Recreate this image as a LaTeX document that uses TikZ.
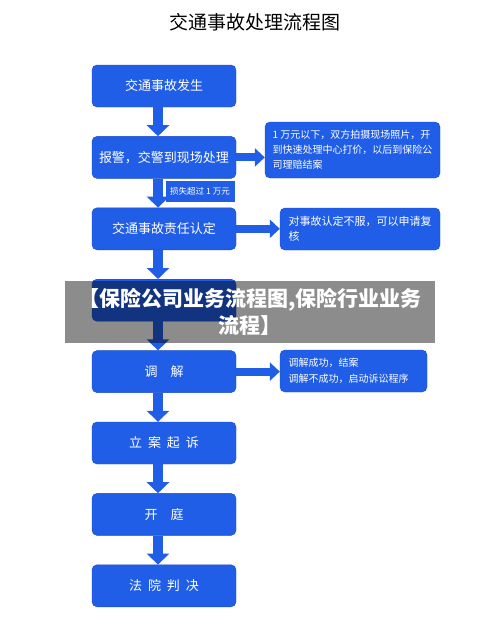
\documentclass[tikz,border=0pt]{standalone}
\usepackage{fontspec}
\setmainfont{Noto Sans CJK SC}
\usepackage{tikz}
\usetikzlibrary{arrows.meta}
\definecolor{flowblue}{RGB}{33,94,232}
\definecolor{flowedge}{RGB}{24,72,200}
\newcommand{\kgap}{\hspace{.45em}}
\tikzstyle{stepnode} = [rectangle, rounded corners=5pt, minimum width=144pt, minimum height=42pt, text centered, draw=flowedge, fill=flowblue, text=white, font=\fontsize{13}{15}\selectfont]
\tikzstyle{sidenote} = [rectangle, rounded corners=5pt, minimum height=42pt, draw=flowedge, fill=flowblue, text=white, align=left, inner xsep=7pt]
\tikzstyle{arrow} = [line width=10pt, draw=flowblue, -{Triangle[width=22pt,length=11pt]}]
\tikzstyle{sidearrow} = [line width=8pt, draw=flowblue, -{Triangle[width=18pt,length=10pt]}]

\begin{document}
\begin{tikzpicture}[x=1pt, y=1pt, node distance=71.4pt]
    \useasboundingbox (0,0) rectangle (500,-625);
    \node (Title) at (255,-22) [font=\fontsize{19}{22}\selectfont] {交通事故处理流程图};
    % main column
    \node (Accident) [stepnode] at (164,-86) {交通事故发生};
    \node (Report) [stepnode, below of = Accident] {报警，交警到现场处理};
    \node (Resp) [stepnode, below of = Report] {交通事故责任认定};
    \node (Covered) [stepnode, below of = Resp] {};
    \node (Mediate) [stepnode, below of = Covered] {调　解};
    \node (Filing) [stepnode, below of = Mediate] {立\kgap 案\kgap 起\kgap 诉};
    \node (Trial) [stepnode, below of = Filing] {开　庭};
    \node (Verdict) [stepnode, below of = Trial] {法\kgap 院\kgap 判\kgap 决};
    % side notes
    \node (QuickDeal) [sidenote, minimum width=175pt, minimum height=56pt, font=\fontsize{10}{15}\selectfont] at (352.5,-150) {1 万元以下，双方拍摄现场照片，开\\到快速处理中心打价，以后到保险公\\司理赔结案};
    \node (Review) [sidenote, minimum width=160pt, font=\fontsize{11}{15}\selectfont] at (360,-229) {对事故认定不服，可以申请复\\核};
    \node (MediateResult) [sidenote, minimum width=147pt, text width=130pt, font=\fontsize{10}{16}\selectfont] at (353.5,-371) {调解成功，结案\\调解不成功，启动诉讼程序};
    \node (LossNote) [rectangle, fill=flowblue, draw=white, line width=1pt, text=white, minimum width=70pt, minimum height=22pt, font=\fontsize{8.5}{10}\selectfont] at (200,-191) {损失超过 1 万元};
    % arrows
    \draw [arrow] ([xshift=-6pt]Accident.south) -- ([xshift=-6pt]Report.north);
    \draw [arrow] ([xshift=-6pt]Report.south) -- ([xshift=-6pt]Resp.north);
    \draw [arrow] ([xshift=-6pt]Resp.south) -- ([xshift=-6pt]Covered.north);
    \draw [arrow] ([xshift=-6pt]Covered.south) -- ([xshift=-6pt]Mediate.north);
    \draw [arrow] ([xshift=-6pt]Mediate.south) -- ([xshift=-6pt]Filing.north);
    \draw [arrow] ([xshift=-6pt]Filing.south) -- ([xshift=-6pt]Trial.north);
    \draw [arrow] ([xshift=-6pt]Trial.south) -- ([xshift=-6pt]Verdict.north);
    \draw [sidearrow] (Report.east) -- (Report.east -| QuickDeal.west);
    \draw [sidearrow] (Resp.east) -- (Resp.east -| Review.west);
    \draw [sidearrow] (Mediate.east) -- (Mediate.east -| MediateResult.west);
    % overlay banner
    \node (Banner) [fill=black, fill opacity=0.45, text opacity=1, text=white, minimum width=370pt, minimum height=62pt, align=center, font=\bfseries\fontsize{21}{27}\selectfont] at (250,-312) {【保险公司业务流程图,保险行业业务\\流程】};
\end{tikzpicture}
\end{document}
